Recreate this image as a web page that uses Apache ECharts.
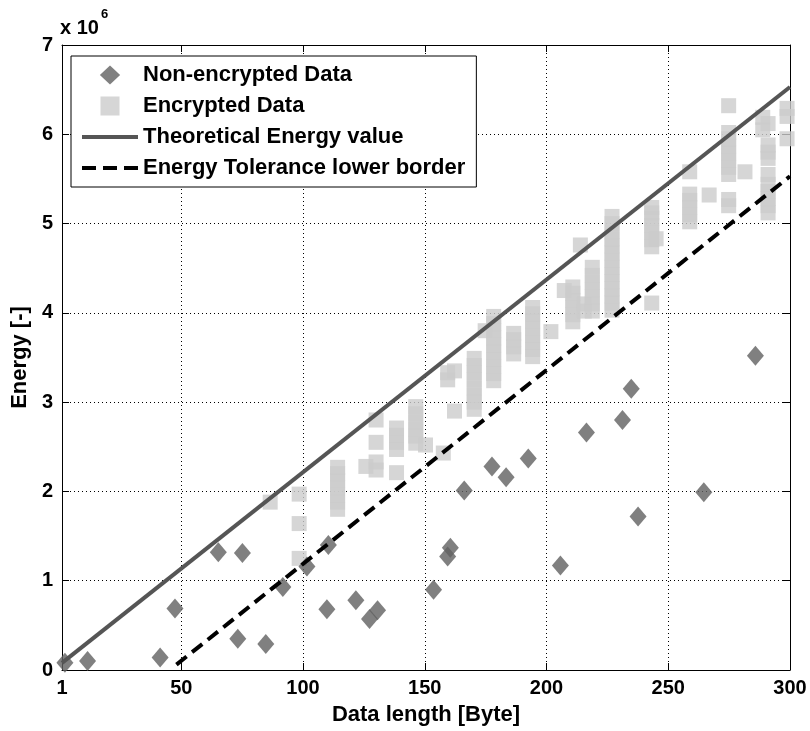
<!DOCTYPE html>
<html>
<head>
<meta charset="utf-8">
<script src="https://cdn.jsdelivr.net/npm/echarts@6/dist/echarts.min.js"></script>
<style>
	html, body { margin: 0; padding: 0; background: #fff; }
	#container { width: 810px; height: 731px; }
</style>
</head>
<body>
<div id="container"></div>
<script>
// tick labels
var xTicks = [1, 50, 100, 150, 200, 250, 300];

// non-encrypted data (x = bytes, e = energy in 10^6)
var plainX = [2.2, 11.5, 41.3, 47.4, 65.2, 73.2, 75.1, 84.7, 91.7, 101.6,
	109.8, 110.4, 121.7, 127.3, 130.6, 153.6, 159.4, 160.5, 166.2, 177.6,
	183.4, 192.5, 205.7, 216.4, 231.2, 234.8, 237.6, 264.6, 285.8];
var plainE = [0.08, 0.10, 0.14, 0.69, 1.32, 0.35, 1.31, 0.29, 0.93, 1.16,
	0.68, 1.40, 0.78, 0.57, 0.67, 0.90, 1.27, 1.37, 2.01, 2.28,
	2.16, 2.37, 1.17, 2.66, 2.80, 3.15, 1.72, 1.99, 3.52];

// encrypted data, one line per packet length
var encX = [
	86.5,
	98.4, 98.4, 98.4,
	114.2, 114.2, 114.2, 114.2, 114.2, 114.2, 114.2,
	125.8,
	130.0, 130.0, 130.0, 130.0,
	138.4, 138.4, 138.4, 138.4, 138.4,
	146.3, 146.3, 146.3, 146.3, 146.3, 146.3,
	150.3,
	157.6,
	159.4, 159.4,
	162.2, 162.2,
	170.3, 170.3, 170.3, 170.3, 170.3, 170.3, 170.3, 170.3,
	174.8,
	178.3, 178.3, 178.3, 178.3, 178.3, 178.3, 178.3, 178.3, 178.3, 178.3,
	186.5, 186.5, 186.5, 186.5,
	194.3, 194.3, 194.3, 194.3, 194.3, 194.3, 194.3, 194.3,
	201.8,
	207.3,
	210.8, 210.8, 210.8, 210.8, 210.8, 210.8,
	213.9,
	215.5, 215.5,
	218.8, 218.8, 218.8, 218.8, 218.8, 218.8, 218.8,
	226.9, 226.9, 226.9, 226.9, 226.9, 226.9, 226.9, 226.9, 226.9, 226.9, 226.9, 226.9, 226.9, 226.9,
	243.2, 243.2, 243.2, 243.2, 243.2, 243.2, 243.2, 243.2,
	245.0,
	258.8, 258.8, 258.8, 258.8, 258.8, 258.8,
	266.8,
	274.8, 274.8, 274.8, 274.8, 274.8, 274.8, 274.8, 274.8, 274.8, 274.8,
	281.5,
	288.8, 288.8,
	291.0, 291.0, 291.0, 291.0, 291.0, 291.0, 291.0, 291.0, 291.0, 291.0,
	298.8, 298.8, 298.8
];
var encE = [
	1.88,
	1.25, 1.64, 1.97,
	1.80, 1.88, 1.96, 2.04, 2.12, 2.20, 2.27,
	2.28,
	2.24, 2.33, 2.55, 2.80,
	2.21, 2.47, 2.55, 2.63, 2.71,
	2.54, 2.62, 2.70, 2.78, 2.87, 2.95,
	2.52,
	2.43,
	3.25, 3.33,
	2.90, 3.35,
	2.92, 3.00, 3.08, 3.16, 3.25, 3.33, 3.41, 3.49,
	3.80,
	3.24, 3.32, 3.40, 3.48, 3.56, 3.64, 3.72, 3.80, 3.88, 3.96,
	3.54, 3.62, 3.70, 3.77,
	3.51, 3.59, 3.67, 3.75, 3.83, 3.91, 3.99, 4.06,
	3.79,
	4.25,
	3.90, 3.98, 4.06, 4.14, 4.22, 4.29,
	4.76,
	4.02, 4.10,
	4.02, 4.10, 4.18, 4.26, 4.34, 4.42, 4.51,
	4.03, 4.11, 4.19, 4.27, 4.35, 4.43, 4.51, 4.59, 4.67, 4.75, 4.83, 4.91, 5.00, 5.08,
	4.11, 4.74, 4.82, 4.90, 4.98, 5.06, 5.12, 5.18,
	4.83,
	5.02, 5.10, 5.18, 5.26, 5.33, 5.58,
	5.32,
	5.20, 5.27, 5.55, 5.63, 5.71, 5.79, 5.87, 5.95, 6.02, 6.32,
	5.58,
	6.05, 6.19,
	5.12, 5.20, 5.28, 5.36, 5.44, 5.55, 5.73, 5.80, 5.88, 6.12,
	5.95, 6.20, 6.29
];

// reference lines (end points)
var theoX = [1, 300];
var theoE = [0.08, 6.53];
var tolX = [48, 300];
var tolE = [0.06, 5.53];

function pairs(xs, ys) {
	var out = [];
	for (var i = 0; i < xs.length; i++) out.push([xs[i], ys[i]]);
	return out;
}

var FONT = "'Liberation Sans', Arial, sans-serif";
var dom = document.getElementById("container");
var myChart = echarts.init(dom, null, { renderer: 'canvas' });

var gridDots = { color: '#000', width: 1, type: [1, 3] };

// legend icons (keep aspect inside the item box)
var iconDiamond = 'path://M8,0 L16,7.5 L8,15 L0,7.5 Z';
var iconSquare = 'path://M0,0 L15,0 L15,15 L0,15 Z';
var iconSolid = 'path://M0,0 L56,0 L56,4 L0,4 Z';
var iconDashed = 'path://M0,0 L14,0 L14,4 L0,4 Z M21,0 L35,0 L35,4 L21,4 Z M42,0 L56,0 L56,4 L42,4 Z';

var option = {
	animation: false,
	backgroundColor: '#fff',
	textStyle: { fontFamily: FONT },
	grid: { left: 62, right: 20, top: 45, bottom: 61, containLabel: false },
	graphic: [
		{ type: 'text', left: 60, top: 18, style: { text: 'x 10', font: 'bold 20px ' + FONT, fill: '#000' } },
		{ type: 'text', left: 101, top: 8, style: { text: '6', font: 'bold 13px ' + FONT, fill: '#000' } }
	],
	legend: {
		orient: 'vertical',
		left: 71,
		top: 56,
		padding: [8, 11, 8, 11],
		itemGap: 9,
		itemWidth: 56,
		itemHeight: 19,
		symbolKeepAspect: true,
		borderColor: '#000',
		borderWidth: 1,
		backgroundColor: '#fff',
		selectedMode: false,
		textStyle: { fontSize: 22, fontWeight: 'bold', color: '#000', lineHeight: 22, fontFamily: FONT },
		data: [
			{ name: 'Non-encrypted Data', icon: iconDiamond },
			{ name: 'Encrypted Data', icon: iconSquare },
			{ name: 'Theoretical Energy value', icon: iconSolid },
			{ name: 'Energy Tolerance lower border', icon: iconDashed }
		]
	},
	xAxis: [{
		type: 'value',
		min: 1,
		max: 300,
		position: 'bottom',
		name: 'Data length [Byte]',
		nameLocation: 'middle',
		nameGap: 34,
		nameTextStyle: { fontSize: 22, fontWeight: 'bold', color: '#000', fontFamily: FONT },
		axisLine: { show: true, onZero: false, lineStyle: { color: '#000', width: 1 } },
		axisTick: { show: true, inside: true, length: 7, customValues: xTicks, lineStyle: { color: '#000' } },
		axisLabel: { customValues: xTicks, margin: 8, fontSize: 20, fontWeight: 'bold', color: '#000', fontFamily: FONT },
		splitLine: { show: true, lineStyle: gridDots }
	}, {
		type: 'value',
		min: 1,
		max: 300,
		position: 'top',
		axisLine: { show: true, onZero: false, lineStyle: { color: '#000', width: 1 } },
		axisTick: { show: true, inside: true, length: 7, customValues: xTicks, lineStyle: { color: '#000' } },
		axisLabel: { show: false },
		splitLine: { show: false }
	}],
	yAxis: [{
		type: 'value',
		min: 0,
		max: 7,
		interval: 1,
		position: 'left',
		name: 'Energy [-]',
		nameLocation: 'middle',
		nameGap: 29,
		nameRotate: 90,
		nameTextStyle: { fontSize: 22, fontWeight: 'bold', color: '#000', fontFamily: FONT },
		axisLine: { show: true, onZero: false, lineStyle: { color: '#000', width: 1 } },
		axisTick: { show: true, inside: true, length: 7, lineStyle: { color: '#000' } },
		axisLabel: { margin: 9, fontSize: 20, fontWeight: 'bold', color: '#000', fontFamily: FONT },
		splitLine: { show: true, lineStyle: gridDots }
	}, {
		type: 'value',
		min: 0,
		max: 7,
		interval: 1,
		position: 'right',
		axisLine: { show: true, onZero: false, lineStyle: { color: '#000', width: 1 } },
		axisTick: { show: true, inside: true, length: 7, lineStyle: { color: '#000' } },
		axisLabel: { show: false },
		splitLine: { show: false }
	}],
	series: [{
		name: 'Encrypted Data',
		type: 'scatter',
		xAxisIndex: 0,
		yAxisIndex: 0,
		symbol: 'rect',
		symbolSize: 15,
		itemStyle: { color: '#cccccc' },
		z: 2,
		data: pairs(encX, encE)
	}, {
		name: 'Non-encrypted Data',
		type: 'scatter',
		xAxisIndex: 0,
		yAxisIndex: 0,
		symbol: 'diamond',
		symbolSize: [17, 20],
		itemStyle: { color: '#606060' },
		z: 3,
		data: pairs(plainX, plainE)
	}, {
		name: 'Theoretical Energy value',
		type: 'line',
		xAxisIndex: 0,
		yAxisIndex: 0,
		symbol: 'none',
		itemStyle: { color: '#555555' },
		lineStyle: { color: '#555555', width: 4 },
		z: 4,
		data: pairs(theoX, theoE)
	}, {
		name: 'Energy Tolerance lower border',
		type: 'line',
		xAxisIndex: 0,
		yAxisIndex: 0,
		symbol: 'none',
		itemStyle: { color: '#000' },
		lineStyle: { color: '#000', width: 4, type: [13, 7] },
		z: 4,
		data: pairs(tolX, tolE)
	}]
};

if (option && typeof option === "object") {
	myChart.setOption(option, true);
}
</script>
</body>
</html>
